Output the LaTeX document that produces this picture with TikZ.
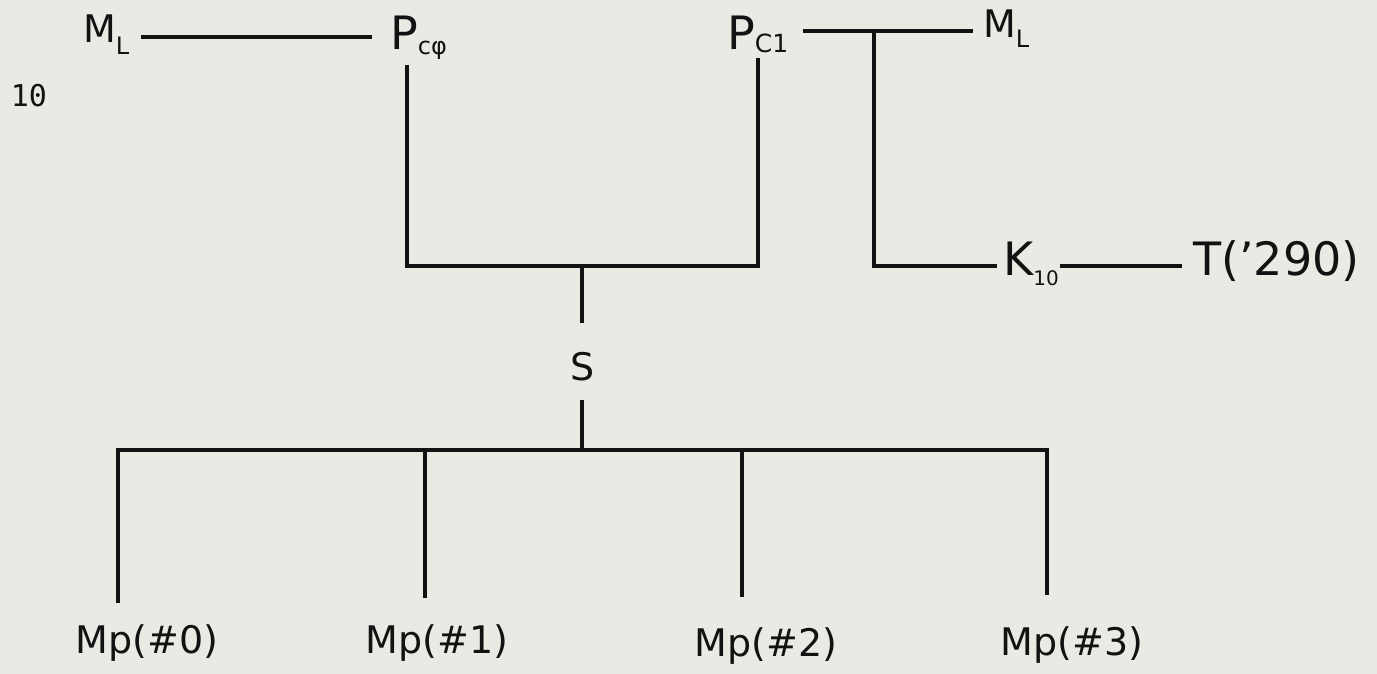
\documentclass[tikz,border=0pt]{standalone}
\usepackage{fontspec}
\setmainfont{DejaVu Sans}
\newfontfamily\typefont{DejaVu Sans Mono}
\newcommand\lowsub[3]{\raisebox{-#1}{\fontsize{#2}{#2}\selectfont #3}}
\definecolor{paper}{RGB}{234,234,229}
\definecolor{ink}{RGB}{18,18,18}
\begin{document}
\begin{tikzpicture}[x=1pt,y=-1pt,
  lbl/.style={inner sep=0pt,text=ink,font=\fontsize{38}{38}\selectfont},
  big/.style={inner sep=0pt,text=ink,font=\fontsize{46}{46}\selectfont},
  num/.style={inner sep=0pt,text=ink,font=\typefont\fontsize{30}{30}\selectfont},
  wire/.style={draw=ink,line width=3.2pt,line join=miter}]
\fill[paper] (0,0) rectangle (1377,674);
\useasboundingbox (0,0) rectangle (1377,674);

% labels
\node[num] (ten) at (29,96) {10};
\node[lbl, anchor=base west] (mlA) at (83,43) {M\lowsub{12pt}{24}{L}};
\node[big, anchor=base west] (pc0) at (390,50) {P\lowsub{5pt}{24}{cφ}};
\node[big, anchor=base west] (pc1) at (727,50) {P\lowsub{3pt}{25}{C1}};
\node[lbl, anchor=base west] (mlB) at (983,38) {M\lowsub{10pt}{24}{L}};
\node[big, anchor=base west] (k10) at (1003,275) {K\lowsub{10pt}{20}{10}};
\node[big, anchor=base west] (t290) at (1193,275) {T('290)};
\node[lbl] (S) at (583,367) {S};
\node[lbl, anchor=base] (mp0) at (147,653) {Mp(\#0)};
\node[lbl, anchor=base] (mp1) at (437,653) {Mp(\#1)};
\node[lbl, anchor=base] (mp2) at (766,656) {Mp(\#2)};
\node[lbl, anchor=base] (mp3) at (1072,655) {Mp(\#3)};

% junctions
\coordinate (jL) at (407,266);
\coordinate (jS) at (582,266);
\coordinate (jR) at (758,266);
\coordinate (jT) at (874,31);
\coordinate (jK) at (874,266);
\coordinate (jB) at (582,450);
\coordinate (b0) at (118,450);
\coordinate (b1) at (425,450);
\coordinate (b2) at (742,450);
\coordinate (b3) at (1047,450);

% connectors
\draw[wire] ([xshift=11pt,yshift=6pt]mlA.base east) -- ([xshift=-18pt,yshift=13pt]pc0.base west);
\draw[wire] ([yshift=-15pt]jL |- pc0.base) -- (jL) -- (jR) -- ([yshift=-8pt]jR |- pc1.base);
\draw[wire] ([xshift=14pt,yshift=19pt]pc1.base east) -- ([xshift=-10pt,yshift=7pt]mlB.base west);
\draw[wire] (jT) -- (jK) -- ([xshift=-6pt,yshift=9pt]k10.base west);
\draw[wire] ([xshift=1pt,yshift=9pt]k10.base east) -- ([xshift=-11pt,yshift=9pt]t290.base west);
\draw[wire] (jS) -- ([yshift=29pt]jS |- S.north);
\draw[wire] ([yshift=-18pt]jB |- S.south) -- (jB);
\draw[wire] ([yshift=21pt]b0 |- mp0.north) -- (b0) -- (b3) -- ([yshift=31pt]b3 |- mp3.north);
\draw[wire] (b1) -- ([yshift=26pt]b1 |- mp1.north);
\draw[wire] (b2) -- ([yshift=30pt]b2 |- mp2.north);
\end{tikzpicture}
\end{document}
